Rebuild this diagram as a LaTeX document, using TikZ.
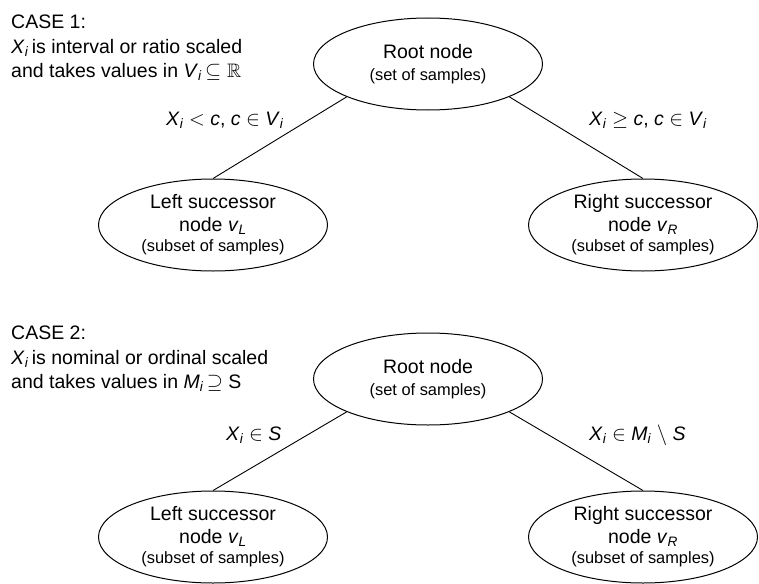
\documentclass[tikz,border=0pt]{standalone}
\usepackage{amssymb}
\usepackage{fontspec}
\setmainfont{Liberation Sans}
\usetikzlibrary{shapes}

\newcommand{\xvar}[2]{\textit{#1}\textsubscript{\textit{#2}}}
\newcommand{\smalltext}{\fontsize{16.4}{20}\selectfont}

\begin{document}
\begin{tikzpicture}[x=1pt,y=-1pt,
    treenode/.style={ellipse,draw,line width=1pt,inner sep=0pt,
      minimum width=229pt,minimum height=92pt,align=center,
      font=\fontsize{19.5}{23}\selectfont},
    casetext/.style={anchor=north west,inner sep=0pt,align=left,
      font=\fontsize{19.5}{24.5}\selectfont},
    cond/.style={anchor=base west,inner sep=0pt,
      font=\fontsize{19.5}{23}\selectfont},
    branch/.style={line width=0.9pt}]
    \useasboundingbox (0,0) rectangle (759,583);

    % Case 1
    \node (case_1) [casetext] at (11,15) {CASE 1:\\
      \xvar{X}{i}\,is interval or ratio scaled\\
      and takes values in \xvar{V}{i}\,$\subseteq\mathbb{R}$};
    \node (root_1) [treenode] at (428,64) {Root node\\[-1pt]{\smalltext (set of samples)}};
    \node (left_1) [treenode] at (213,225) {Left successor\\
      node \xvar{v}{L}\\[-3pt]{\smalltext (subset of samples)}};
    \node (right_1) [treenode] at (643,225) {Right successor\\
      node \xvar{v}{R}\\[-3pt]{\smalltext (subset of samples)}};
    \node (cond_left_1) [cond] at (166,125) {\xvar{X}{i} $<$ \textit{c}, \textit{c} $\in$ \xvar{V}{i}};
    \node (cond_right_1) [cond] at (589,125) {\xvar{X}{i} $\geq$ \textit{c}, \textit{c} $\in$ \xvar{V}{i}};

    \draw[branch] (root_1.202) -- (left_1.north);
    \draw[branch] (root_1.338) -- (right_1.north);

    % Case 2
    \node (case_2) [casetext] at (11,326) {CASE 2:\\
      \xvar{X}{i}\,is nominal or ordinal scaled\\
      and takes values in \xvar{M}{i}\,$\supseteq$ S};
    \node (root_2) [treenode] at (428,379) {Root node\\[-1pt]{\smalltext (set of samples)}};
    \node (left_2) [treenode] at (213,537) {Left successor\\
      node \xvar{v}{L}\\[-3pt]{\smalltext (subset of samples)}};
    \node (right_2) [treenode] at (643,537) {Right successor\\
      node \xvar{v}{R}\\[-3pt]{\smalltext (subset of samples)}};
    \node (cond_left_2) [cond] at (226,440) {\xvar{X}{i} $\in$ \textit{S}};
    \node (cond_right_2) [cond] at (589,440) {\xvar{X}{i} $\in$ \xvar{M}{i} $\setminus$ \textit{S}};

    \draw[branch] (root_2.202) -- (left_2.north);
    \draw[branch] (root_2.338) -- (right_2.north);
\end{tikzpicture}
\end{document}
